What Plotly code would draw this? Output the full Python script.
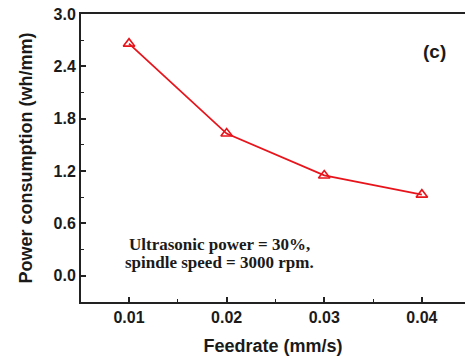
import plotly.graph_objects as go

# Feed rate vs. power consumption
feedrate = [0.01, 0.02, 0.03, 0.04]
power = [2.66, 1.63, 1.15, 0.93]

y_ticks = [0.0, 0.6, 1.2, 1.8, 2.4, 3.0]
y_tick_text = ["0.0", "0.6", "1.2", "1.8", "2.4", "3.0"]
x_ticks = [0.01, 0.02, 0.03, 0.04]
x_tick_text = ["0.01", "0.02", "0.03", "0.04"]

red = "#e8141c"
ink = "#1a1a1a"
sans = "Liberation Sans, Arial, sans-serif"
serif = "Liberation Serif, Times New Roman, serif"

fig = go.Figure()
fig.add_trace(go.Scatter(
    x=feedrate, y=power, mode="lines+markers",
    line=dict(color=red, width=1.8),
    marker=dict(symbol="triangle-up-open", size=10, color=red,
                line=dict(width=1.6, color=red)),
    showlegend=False,
))

title_font = dict(family=sans, size=18, color=ink)
tick_font = dict(family=sans, size=16, color=ink, weight="bold")

fig.update_layout(
    width=465, height=356,
    margin=dict(l=81, r=0, t=14, b=54),
    plot_bgcolor="white", paper_bgcolor="white",
    xaxis=dict(
        range=[0.00508, 0.04442],
        tickvals=x_ticks, ticktext=x_tick_text,
        ticks="inside", ticklen=5, tickwidth=1.5, tickcolor="#222",
        minor=dict(ticks="inside", ticklen=3, tickwidth=1.2, tickcolor="#222", dtick=0.005, tick0=0.005),
        showline=True, linecolor="#222", linewidth=2, mirror=True,
        showgrid=False, zeroline=False,
        tickfont=tick_font,
        title=dict(text="<b>Feedrate (mm/s)</b>", font=title_font, standoff=14),
    ),
    yaxis=dict(
        range=[-0.3, 3.0],
        tickvals=y_ticks, ticktext=y_tick_text,
        ticks="inside", ticklen=5, tickwidth=1.5, tickcolor="#222",
        minor=dict(ticks="inside", ticklen=3, tickwidth=1.2, tickcolor="#222", dtick=0.3, tick0=0.3),
        showline=True, linecolor="#222", linewidth=2, mirror=False,
        showgrid=False, zeroline=False,
        tickfont=tick_font,
        title=dict(text="<b>Power consumption (wh/mm)</b>", font=title_font, standoff=16),
    ),
)

# Process conditions, one annotation per line for tight spacing
note_font = dict(family=serif, size=17, color=ink)
fig.add_annotation(
    x=0.0193, y=0.36, xref="x", yref="y",
    text="<b>Ultrasonic power = 30%,</b>",
    showarrow=False, font=note_font,
)
fig.add_annotation(
    x=0.0193, y=0.155, xref="x", yref="y",
    text="<b>spindle speed = 3000 rpm.</b>",
    showarrow=False, font=note_font,
)

fig.add_annotation(
    x=0.0413, y=2.57, xref="x", yref="y",
    text="<b>(c)</b>", showarrow=False,
    font=dict(family=sans, size=19, color=ink),
)

fig.write_html("out.html")
